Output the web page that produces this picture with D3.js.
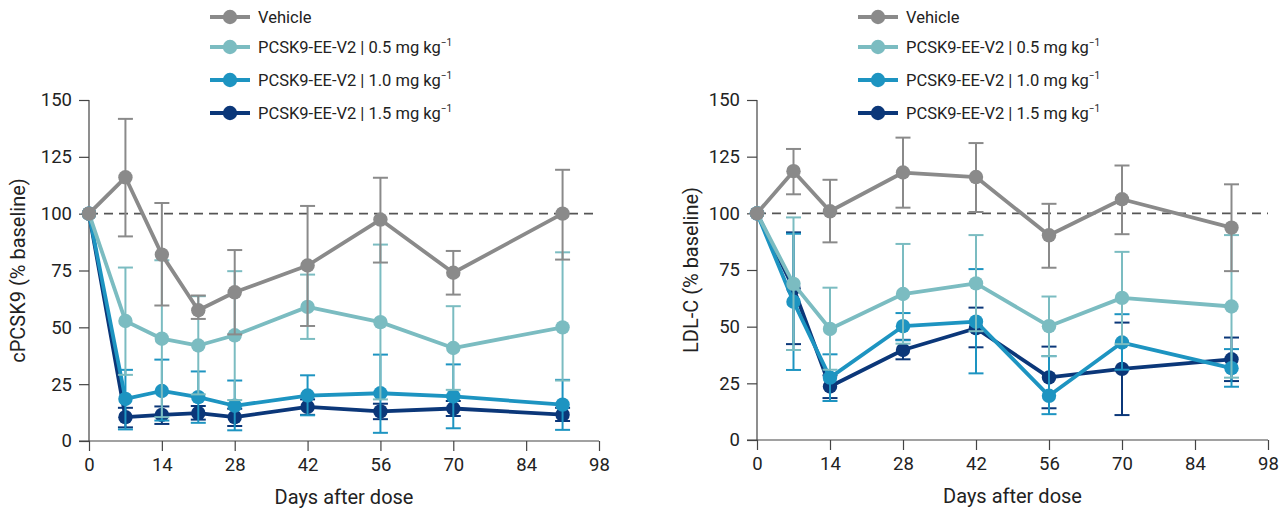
<!DOCTYPE html>
<html>
<head>
<meta charset="utf-8">
<style>
  body { margin: 0; background: #fff; }
  svg { display: block; font-family: Roboto, "Noto Sans", Arial, sans-serif; }
  .axis path, .axis line { stroke: #444; stroke-width: 1.2; }
  .axis text { font-size: 18.5px; fill: #222; font-family: Roboto, "Noto Sans", sans-serif; }
</style>
</head>
<body>
<svg width="1284" height="513"></svg>
<script src="https://d3js.org/d3.v7.min.js"></script>
<script>
// ---------- data ----------
const seriesLabels = ["Vehicle", "PCSK9-EE-V2 | 0.5 mg kg", "PCSK9-EE-V2 | 1.0 mg kg", "PCSK9-EE-V2 | 1.5 mg kg"];
const seriesSup = ["", "\u22121", "\u22121", "\u22121"];
const seriesColors = ["#8a8a8a", "#7bbcc1", "#1d94c1", "#0b3779"];
const xTicks = [0, 14, 28, 42, 56, 70, 84, 98];
const yTicks = [0, 25, 50, 75, 100, 125, 150];

// cPCSK9 panel
const daysPCSK9 = [0, 7, 14, 21, 28, 42, 56, 70, 91];
const pcskMean = [
  [100, 116, 82, 57.5, 65.4, 77.2, 97.4, 74, 100],
  [100, 52.8, 45, 42, 46.5, 59, 52.3, 40.9, 50],
  [100, 18.5, 22, 19.3, 15.5, 20, 21, 19.6, 16],
  [100, 10.5, 11.5, 12.3, 10.5, 15, 13, 14.3, 11.6]
];
const pcskLow = [
  [100, 90, 59.6, 53.7, 46.9, 50.6, 78.5, 64.4, 79.8],
  [100, 29.1, 10.5, 20.5, 18, 44.9, 18.3, 22.5, 26.6],
  [100, 5.1, 9, 8, 4.7, 11.3, 3.6, 5.6, 4.9],
  [100, 6, 7.5, 9.4, 6.6, 11.5, 9.6, 11, 8.8]
];
const pcskHigh = [
  [100, 141.7, 104.7, 64, 84, 103.4, 115.8, 83.6, 119.3],
  [100, 76.3, 79.5, 63.7, 74.7, 73.2, 86.4, 59.3, 83],
  [100, 31.3, 35.8, 30.6, 26.6, 28.9, 38, 33.7, 26.9],
  [100, 14.6, 15.2, 15.4, 14.2, 18.3, 16.4, 17.6, 14.6]
];

// LDL-C panel
const daysLDL = [0, 7, 14, 28, 42, 56, 70, 91];
const ldlMean = [
  [100, 118.6, 100.9, 118, 116, 90.3, 106.2, 93.7],
  [100, 68.9, 49, 64.4, 69.1, 50.2, 62.7, 58.9],
  [100, 61, 27.5, 50.2, 52.2, 19.5, 43, 31.7],
  [100, 67, 23.6, 39.7, 49.3, 27.6, 31.4, 35.6]
];
const ldlLow = [
  [100, 108.4, 87.2, 102.5, 100.6, 76, 90.8, 74.5],
  [100, 39.7, 31, 42.5, 48, 37, 42.3, 27.5],
  [100, 30.9, 17.2, 44, 29.4, 11.4, 31, 23.5],
  [100, 42.3, 18.5, 35.6, 40.9, 14, 11, 26]
];
const ldlHigh = [
  [100, 128.4, 114.8, 133.4, 131, 104.2, 121.1, 112.8],
  [100, 98.2, 67.2, 86.5, 90.4, 63.3, 83, 90.4],
  [100, 91, 37.8, 56, 75.4, 37, 55.5, 40.1],
  [100, 91.6, 28.5, 44.2, 58.4, 41.2, 51.8, 45.2]
];

const svg = d3.select("svg");

function drawPanel(opt) {
  const x = d3.scaleLinear().domain([0, 98]).range([opt.left, opt.right]);
  const y = d3.scaleLinear().domain([0, 150]).range([opt.bottom, opt.top]);
  const g = svg.append("g");

  // y axis
  const yAxis = g.append("g").attr("class", "axis")
    .attr("transform", `translate(${opt.left},0)`)
    .call(d3.axisLeft(y).tickValues(yTicks).tickSize(10).tickPadding(7).tickSizeOuter(0));
  yAxis.select(".domain").remove();
  yAxis.append("line").attr("x1", 0).attr("x2", 0)
    .attr("y1", y(150)).attr("y2", y(0));

  // x axis
  const xAxis = g.append("g").attr("class", "axis")
    .attr("transform", `translate(0,${opt.bottom})`)
    .call(d3.axisBottom(x).tickValues(xTicks).tickSize(10).tickPadding(7).tickSizeOuter(0));
  xAxis.select(".domain").remove();
  xAxis.append("line").attr("x1", opt.left - 10).attr("x2", x(98))
    .attr("y1", 0).attr("y2", 0);

  // axis titles
  g.append("text")
    .attr("x", (opt.left + x(98)) / 2).attr("y", opt.bottom + 63)
    .attr("text-anchor", "middle").attr("font-size", 20).attr("fill", "#222")
    .text("Days after dose");
  g.append("text")
    .attr("transform", `translate(${opt.ytitleX},${(y(0) + y(150)) / 2}) rotate(-90)`)
    .attr("text-anchor", "middle").attr("font-size", 20).attr("fill", "#222")
    .text(opt.ytitle);

  // baseline dashed line
  g.append("line")
    .attr("x1", x(0)).attr("x2", x(98))
    .attr("y1", y(100)).attr("y2", y(100))
    .attr("stroke", "#555").attr("stroke-width", 1.8)
    .attr("stroke-dasharray", "9,6");

  // series drawn from highest dose to vehicle so vehicle sits on top
  const line = d3.line().x(d => x(d.day)).y(d => y(d.v));
  for (let s = 3; s >= 0; s--) {
    const pts = opt.days.map((d, i) => ({
      day: d, v: opt.mean[s][i], lo: opt.low[s][i], hi: opt.high[s][i]
    }));
    const col = seriesColors[s];
    const sg = g.append("g");

    const eb = sg.selectAll(".eb").data(pts.filter(p => p.hi > p.lo)).join("g");
    eb.append("line")
      .attr("x1", d => x(d.day)).attr("x2", d => x(d.day))
      .attr("y1", d => y(d.lo)).attr("y2", d => y(d.hi))
      .attr("stroke", col).attr("stroke-width", 2);
    eb.append("line")
      .attr("x1", d => x(d.day) - 7.5).attr("x2", d => x(d.day) + 7.5)
      .attr("y1", d => y(d.hi)).attr("y2", d => y(d.hi))
      .attr("stroke", col).attr("stroke-width", 2);
    eb.append("line")
      .attr("x1", d => x(d.day) - 7.5).attr("x2", d => x(d.day) + 7.5)
      .attr("y1", d => y(d.lo)).attr("y2", d => y(d.lo))
      .attr("stroke", col).attr("stroke-width", 2);

    sg.append("path").datum(pts)
      .attr("d", line)
      .attr("fill", "none").attr("stroke", col).attr("stroke-width", 3.8)
      .attr("stroke-linejoin", "round");

    sg.selectAll("circle").data(pts).join("circle")
      .attr("cx", d => x(d.day)).attr("cy", d => y(d.v))
      .attr("r", 7.2).attr("fill", col);
  }

  // legend
  const legY = [17, 47, 80, 113];
  const lg = g.append("g");
  seriesLabels.forEach((lab, i) => {
    lg.append("line")
      .attr("x1", opt.legX).attr("x2", opt.legX + 40)
      .attr("y1", legY[i]).attr("y2", legY[i])
      .attr("stroke", seriesColors[i]).attr("stroke-width", 3.8);
    lg.append("circle")
      .attr("cx", opt.legX + 20).attr("cy", legY[i]).attr("r", 7.2)
      .attr("fill", seriesColors[i]);
    const t = lg.append("text")
      .attr("x", opt.legX + 48).attr("y", legY[i]).attr("dy", "0.35em")
      .attr("font-size", 16.5).attr("fill", "#222")
      .text(lab);
    if (seriesSup[i]) {
      t.append("tspan").attr("dy", -7).attr("font-size", 10).text(seriesSup[i]);
    }
  });
}

drawPanel({
  left: 89, right: 599, top: 100, bottom: 441,
  days: daysPCSK9, mean: pcskMean, low: pcskLow, high: pcskHigh,
  ytitle: "cPCSK9 (% baseline)", ytitleX: 25, legX: 210
});

drawPanel({
  left: 757, right: 1268, top: 100, bottom: 440,
  days: daysLDL, mean: ldlMean, low: ldlLow, high: ldlHigh,
  ytitle: "LDL-C (% baseline)", ytitleX: 698, legX: 858
});
</script>
</body>
</html>
